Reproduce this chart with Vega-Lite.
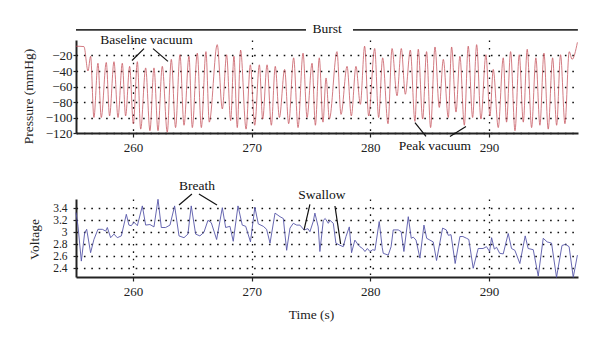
{
  "$schema": "https://vega.github.io/schema/vega-lite/v6.json",
  "autosize": {"type": "none"},
  "padding": {"left": 76, "top": 40, "right": 524, "bottom": 302},
  "background": "white",
  "bounds": "flush",
  "spacing": 66,
  "config": {
    "view": {"stroke": null},
    "font": "Liberation Serif",
    "axis": {
      "labelFont": "Liberation Serif", "labelFontSize": 13, "labelColor": "#222", "labelOverlap": false,
      "titleFont": "Liberation Serif", "titleFontSize": 13.5, "titleFontWeight": "normal", "titleColor": "#222",
      "domainColor": "#222", "domainWidth": 2, "tickColor": "#222", "tickWidth": 1.2,
      "gridColor": "#111", "gridDash": [1.6, 5.8], "gridWidth": 1.3, "gridOpacity": 1
    },
    "axisX": {"tickSize": 4, "labelPadding": 4},
    "axisY": {"tickSize": 3}
  },
  "datasets": {
    "pressure": [
      {"t":255.2,"p":-8},{"t":255.87,"p":-8.5},{"t":256.21,"p":-40},{"t":256.43,"p":-21},{"t":256.71,"p":-100},
      {"t":257.05,"p":-30},{"t":257.33,"p":-100},{"t":257.75,"p":-29},{"t":258.03,"p":-98},{"t":258.4,"p":-28},
      {"t":258.74,"p":-100},{"t":259.1,"p":-30},{"t":259.38,"p":-98},{"t":259.72,"p":-34},{"t":260.03,"p":-108},
      {"t":260.37,"p":-28},{"t":260.65,"p":-115},{"t":261.07,"p":-36},{"t":261.43,"p":-117},{"t":261.77,"p":-36},
      {"t":262.11,"p":-117},{"t":262.47,"p":-34},{"t":262.89,"p":-119},{"t":263.23,"p":-25},{"t":263.59,"p":-113},
      {"t":263.96,"p":-19},{"t":264.3,"p":-110},{"t":264.72,"p":-21},{"t":265.0,"p":-113},{"t":265.42,"p":-17},
      {"t":265.76,"p":-113},{"t":266.15,"p":-15},{"t":266.43,"p":-106},{"t":267.1,"p":-6},{"t":267.53,"p":-89},
      {"t":267.89,"p":-19},{"t":268.23,"p":-104},{"t":268.51,"p":-21},{"t":268.79,"p":-113},{"t":269.07,"p":-13},
      {"t":269.53,"p":-115},{"t":269.89,"p":-32},{"t":270.26,"p":-110},{"t":270.65,"p":-32},{"t":270.93,"p":-102},
      {"t":271.3,"p":-32},{"t":271.66,"p":-110},{"t":271.99,"p":-34},{"t":272.34,"p":-100},{"t":272.78,"p":-38},
      {"t":273.12,"p":-108},{"t":273.54,"p":-23},{"t":273.91,"p":-113},{"t":274.33,"p":-17},{"t":274.67,"p":-100},
      {"t":275.09,"p":-30},{"t":275.37,"p":-110},{"t":275.7,"p":-23},{"t":276.01,"p":-106},{"t":276.27,"p":-49},
      {"t":276.55,"p":-102},{"t":277.19,"p":-15},{"t":277.53,"p":-96},{"t":278.04,"p":-34},{"t":278.4,"p":-98},
      {"t":278.79,"p":-34},{"t":279.16,"p":-83},{"t":279.52,"p":-8},{"t":279.86,"p":-98},{"t":280.37,"p":-11},
      {"t":280.7,"p":-100},{"t":281.04,"p":-23},{"t":281.49,"p":-108},{"t":281.83,"p":-11},{"t":282.25,"p":-72},
      {"t":282.61,"p":-11},{"t":282.95,"p":-70},{"t":283.37,"p":-13},{"t":283.76,"p":-105},{"t":284.04,"p":-12},
      {"t":284.41,"p":-102},{"t":284.74,"p":-15},{"t":285.08,"p":-113},{"t":285.45,"p":-9},{"t":285.81,"p":-87},
      {"t":286.15,"p":-25},{"t":286.57,"p":-100},{"t":286.85,"p":-9},{"t":287.22,"p":-93},{"t":287.55,"p":-21},
      {"t":287.92,"p":-110},{"t":288.25,"p":-8},{"t":288.62,"p":-100},{"t":288.96,"p":-6},{"t":289.32,"p":-102},
      {"t":289.74,"p":-19},{"t":290.08,"p":-98},{"t":290.36,"p":-38},{"t":290.78,"p":-113},{"t":291.2,"p":-23},
      {"t":291.48,"p":-106},{"t":291.82,"p":-15},{"t":292.19,"p":-117},{"t":292.55,"p":-19},{"t":292.89,"p":-106},
      {"t":293.22,"p":-12},{"t":293.59,"p":-113},{"t":293.95,"p":-23},{"t":294.29,"p":-110},{"t":294.63,"p":-17},
      {"t":294.99,"p":-115},{"t":295.36,"p":-23},{"t":295.7,"p":-110},{"t":296.03,"p":-19},{"t":296.4,"p":-108},
      {"t":296.76,"p":-15},{"t":297.0,"p":-25},{"t":297.45,"p":-3}
    ],
    "voltage": [
      {"t":255.2,"v":3.33},{"t":255.37,"v":3.1},{"t":255.65,"v":2.52},{"t":255.93,"v":2.99},{"t":256.1,"v":3.05},
      {"t":256.43,"v":2.66},{"t":256.71,"v":2.88},{"t":257.05,"v":3.05},{"t":257.42,"v":3.05},{"t":257.7,"v":3.02},
      {"t":257.84,"v":3.08},{"t":258.12,"v":2.91},{"t":258.4,"v":2.97},{"t":258.68,"v":2.91},{"t":259.02,"v":2.94},
      {"t":259.44,"v":3.3},{"t":259.66,"v":3.12},{"t":259.86,"v":3.11},{"t":260.08,"v":3.17},{"t":260.37,"v":3.11},
      {"t":260.79,"v":3.44},{"t":261.07,"v":3.12},{"t":261.43,"v":3.13},{"t":261.77,"v":3.09},{"t":262.11,"v":3.55},
      {"t":262.39,"v":3.08},{"t":262.75,"v":3.08},{"t":263.12,"v":3.12},{"t":263.51,"v":3.44},{"t":263.88,"v":2.94},
      {"t":264.3,"v":2.91},{"t":264.63,"v":2.97},{"t":264.91,"v":3.44},{"t":265.28,"v":2.97},{"t":265.64,"v":2.94},
      {"t":265.98,"v":3.0},{"t":266.32,"v":3.2},{"t":266.6,"v":3.16},{"t":267.05,"v":2.88},{"t":267.53,"v":3.41},
      {"t":267.81,"v":3.08},{"t":268.17,"v":3.1},{"t":268.45,"v":2.85},{"t":268.85,"v":3.44},{"t":269.21,"v":3.12},
      {"t":269.5,"v":3.1},{"t":269.9,"v":2.84},{"t":270.27,"v":3.42},{"t":270.56,"v":3.14},{"t":270.98,"v":3.1},
      {"t":271.26,"v":3.05},{"t":271.55,"v":2.82},{"t":271.97,"v":3.32},{"t":272.39,"v":3.26},{"t":272.67,"v":3.23},
      {"t":272.95,"v":2.7},{"t":273.23,"v":3.07},{"t":273.51,"v":3.15},{"t":273.8,"v":3.12},{"t":274.07,"v":3.12},
      {"t":274.41,"v":3.04},{"t":274.75,"v":3.06},{"t":274.91,"v":3.01},{"t":275.19,"v":3.18},{"t":275.33,"v":3.32},
      {"t":275.61,"v":3.09},{"t":275.75,"v":2.68},{"t":276.04,"v":3.2},{"t":276.2,"v":3.23},{"t":276.46,"v":3.15},
      {"t":276.6,"v":3.2},{"t":276.88,"v":3.15},{"t":277.1,"v":2.82},{"t":277.38,"v":2.79},{"t":277.72,"v":2.76},
      {"t":277.95,"v":2.93},{"t":278.23,"v":3.09},{"t":278.42,"v":2.66},{"t":278.7,"v":2.87},{"t":278.95,"v":2.8},
      {"t":279.12,"v":2.76},{"t":279.35,"v":2.73},{"t":279.55,"v":2.68},{"t":279.75,"v":2.73},{"t":279.97,"v":2.68},
      {"t":280.2,"v":2.71},{"t":280.39,"v":2.7},{"t":280.75,"v":3.18},{"t":281.0,"v":2.75},{"t":281.09,"v":2.65},
      {"t":281.51,"v":2.62},{"t":281.75,"v":2.76},{"t":281.93,"v":3.04},{"t":282.35,"v":3.04},{"t":282.6,"v":3.01},
      {"t":282.83,"v":2.68},{"t":283.2,"v":3.26},{"t":283.45,"v":2.9},{"t":283.62,"v":2.92},{"t":283.85,"v":2.87},
      {"t":284.18,"v":2.57},{"t":284.52,"v":3.12},{"t":284.75,"v":2.9},{"t":285.02,"v":2.87},{"t":285.3,"v":2.84},
      {"t":285.58,"v":2.53},{"t":286.09,"v":3.07},{"t":286.4,"v":3.04},{"t":286.57,"v":2.95},{"t":286.8,"v":2.96},
      {"t":287.15,"v":2.48},{"t":287.55,"v":2.93},{"t":287.8,"v":2.93},{"t":288.11,"v":2.9},{"t":288.3,"v":2.88},
      {"t":288.67,"v":2.4},{"t":289.09,"v":2.73},{"t":289.5,"v":2.73},{"t":289.79,"v":2.76},{"t":290.05,"v":2.68},
      {"t":290.22,"v":2.91},{"t":290.45,"v":2.72},{"t":290.64,"v":2.75},{"t":290.9,"v":2.65},{"t":291.2,"v":2.64},
      {"t":291.62,"v":2.98},{"t":291.9,"v":2.73},{"t":292.18,"v":2.7},{"t":292.6,"v":2.48},{"t":293.05,"v":2.94},
      {"t":293.3,"v":2.73},{"t":293.73,"v":2.71},{"t":294.15,"v":2.27},{"t":294.57,"v":2.9},{"t":294.9,"v":2.84},
      {"t":295.27,"v":2.82},{"t":295.69,"v":2.25},{"t":296.15,"v":2.78},{"t":296.45,"v":2.8},{"t":296.75,"v":2.76},
      {"t":297.1,"v":2.25},{"t":297.45,"v":2.62}
    ],
    "topLines": [
      {"t":260.93,"p":-11.1,"t2":259.92,"p2":-26.4},
      {"t":261.69,"p":-11.1,"t2":262.95,"p2":-27.6},
      {"t":283.76,"p":-106.6,"t2":284.69,"p2":-124.5},
      {"t":286.71,"p":-124.5,"t2":288.06,"p2":-111.7}
    ],
    "burstLines": [
      {"t":255.2,"p":13.1,"t2":274.58,"p2":13.1},
      {"t":278.54,"p":13.1,"t2":297.49,"p2":13.1}
    ],
    "topText": [
      {"t":261.14,"p":0.4,"label":"Baseline vacuum"},
      {"t":285.44,"p":-137.2,"label":"Peak vacuum"},
      {"t":276.35,"p":14.4,"label":"Burst"}
    ],
    "botLines": [
      {"t":264.97,"v":3.638,"t2":263.88,"v2":3.455},
      {"t":265.56,"v":3.638,"t2":267.08,"v2":3.455},
      {"t":274.91,"v":3.467,"t2":274.41,"v2":3.038},
      {"t":277.02,"v":3.438,"t2":277.5,"v2":2.805}
    ],
    "botText": [
      {"t":265.39,"v":3.772,"label":"Breath"},
      {"t":275.92,"v":3.62,"label":"Swallow"}
    ]
  },
  "vconcat": [
    {
      "width": 502,
      "height": 93,
      "encoding": {
        "x": {"field": "t", "type": "quantitative",
              "scale": {"domain": [255.2, 297.5], "nice": false, "zero": false},
              "axis": {"values": [260, 270, 280, 290], "grid": true, "title": null}},
        "y": {"field": "p", "type": "quantitative",
              "scale": {"domain": [-120, 0], "nice": false, "zero": false},
              "axis": {"values": [-120, -100, -80, -60, -40, -20], "grid": true, "labelPadding": 1,
                       "title": "Pressure (mmHg)", "titleX": -47.5, "titleY": 56, "titleAngle": -90,
                       "titleAlign": "center", "titleBaseline": "middle"}}
      },
      "layer": [
        {
          "data": {"name": "pressure"},
          "mark": {"type": "line", "color": "#c4505a", "strokeWidth": 0.75, "interpolate": "monotone"}
        },
        {
          "data": {"name": "topLines"},
          "mark": {"type": "rule", "color": "#111", "strokeWidth": 1.2, "clip": false},
          "encoding": {"x2": {"field": "t2"}, "y2": {"field": "p2"}}
        },
        {
          "data": {"name": "burstLines"},
          "mark": {"type": "rule", "color": "#333", "strokeWidth": 1.6, "clip": false},
          "encoding": {"x2": {"field": "t2"}, "y2": {"field": "p2"}}
        },
        {
          "data": {"name": "topText"},
          "mark": {"type": "text", "font": "Liberation Serif", "fontSize": 13.5, "color": "#111", "align": "center", "baseline": "middle", "clip": false},
          "encoding": {"text": {"field": "label"}}
        }
      ]
    },
    {
      "width": 502,
      "height": 78,
      "encoding": {
        "x": {"field": "t", "type": "quantitative",
              "scale": {"domain": [255.2, 297.5], "nice": false, "zero": false},
              "axis": {"values": [260, 270, 280, 290], "grid": true, "title": "Time (s)",
                       "titleX": 235, "titleY": 37, "titleAlign": "center", "titleBaseline": "middle"}},
        "y": {"field": "v", "type": "quantitative",
              "scale": {"domain": [2.255, 3.555], "nice": false, "zero": false},
              "axis": {"values": [2.4, 2.6, 2.8, 3, 3.2, 3.4], "format": "~g", "grid": true, "labelPadding": 6,
                       "labelFontSize": 11.5, "labelOverlap": false,
                       "title": "Voltage", "titleX": -41.5, "titleY": 40, "titleAngle": -90,
                       "titleAlign": "center", "titleBaseline": "middle"}}
      },
      "layer": [
        {
          "data": {"name": "voltage"},
          "mark": {"type": "line", "color": "#5656a8", "strokeWidth": 0.9}
        },
        {
          "data": {"name": "botLines"},
          "mark": {"type": "rule", "color": "#111", "strokeWidth": 1.2, "clip": false},
          "encoding": {"x2": {"field": "t2"}, "y2": {"field": "v2"}}
        },
        {
          "data": {"name": "botText"},
          "mark": {"type": "text", "font": "Liberation Serif", "fontSize": 13.5, "color": "#111", "align": "center", "baseline": "middle", "clip": false},
          "encoding": {"text": {"field": "label"}}
        }
      ]
    }
  ]
}
